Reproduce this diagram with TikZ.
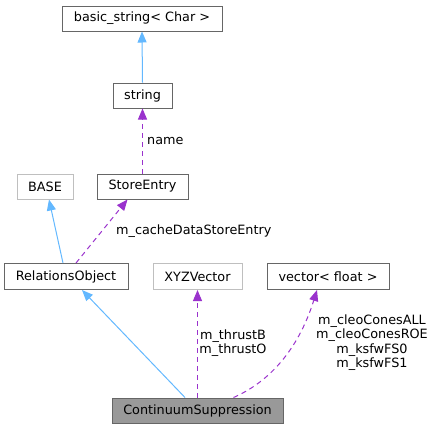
\documentclass[tikz,border=0pt]{standalone}
\usepackage{fontspec}
\setmainfont{DejaVu Sans}
\usetikzlibrary{arrows.meta,calc}
\definecolor{boxgray}{HTML}{666666}
\definecolor{ghost}{HTML}{BFBFBF}
\definecolor{blueln}{HTML}{63B8FF}
\definecolor{purp}{HTML}{9A32CD}
\definecolor{fillgray}{HTML}{999999}
\newcommand{\lblfont}{\fontsize{12.8}{14.5}\selectfont}
\begin{document}
\begin{tikzpicture}[x=1pt,y=-1pt,
  box/.style={draw=boxgray, line width=1pt, rectangle, inner sep=0pt, font=\lblfont, fill=white, text=black},
  ghostbox/.style={box, draw=ghost},
  inherit/.style={draw=blueln, line width=1pt, -{Triangle[length=11pt,width=9pt]}},
  usage/.style={draw=purp, line width=1pt, dash pattern=on 5pt off 4pt, -{Triangle[length=11pt,width=9pt]}},
  elabel/.style={font=\lblfont, inner sep=0pt, align=center}]
\useasboundingbox (0,0) rectangle (435,429);
\node[box, minimum width=160pt, minimum height=25pt] (bs) at (142,18.5) {basic\_string< Char >};
\node[box, minimum width=59pt, minimum height=25pt] (str) at (142.5,95.5) {string};
\node[ghostbox, minimum width=56pt, minimum height=25pt] (base) at (45,186.5) {BASE};
\node[box, minimum width=91pt, minimum height=25pt] (se) at (142.5,186.5) {StoreEntry};
\node[box, minimum width=124pt, minimum height=26pt] (ro) at (66,276.5) {RelationsObject};
\node[ghostbox, minimum width=89pt, minimum height=26pt] (xyz) at (197.5,276.5) {XYZVector};
\node[box, minimum width=122pt, minimum height=26pt] (vec) at (328,276.5) {vector< float >};
\node[box, fill=fillgray, minimum width=171pt, minimum height=25pt] (cs) at (197.5,410.5) {ContinuumSuppression};

\draw[inherit] (str.north) -- (bs.south);
\draw[usage] (se.north) -- (str.south);
\draw[inherit] ($(ro.north)+(-3,0)$) -- ($(base.south)+(4,0)$);
\draw[usage] ($(ro.north)+(10,0)$) -- ($(se.south)+(-15,0)$);
\draw[inherit] ($(cs.north)+(-12.5,0)$) -- ($(ro.south)+(16,0)$);
\draw[usage] (cs.north) -- (xyz.south);
\draw[usage] ($(cs.north)+(36,0)$) .. controls (278,378) and (302,338) .. ($(vec.south)+(-11,0)$);

\node[elabel, anchor=west] (lname) at (147,140.5) {name};
\node[elabel, anchor=west] (lcache) at (116,231) {m\_cacheDataStoreEntry};
\node[elabel] (lthrust) at (233,343) {m\_thrustB\\m\_thrustO};
\node[elabel] (lcleo) at (372,342.5) {m\_cleoConesALL\\m\_cleoConesROE\\m\_ksfwFS0\\m\_ksfwFS1};
\end{tikzpicture}
\end{document}
